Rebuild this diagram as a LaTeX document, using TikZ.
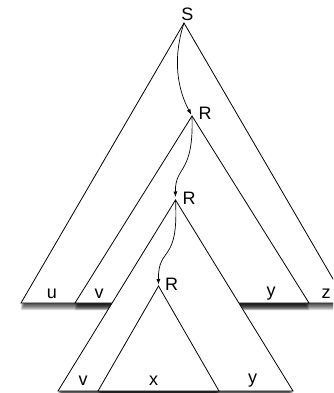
\documentclass[tikz,border=0pt]{standalone}
\usepackage{fontspec}
\setmainfont{Liberation Sans}
\usetikzlibrary{arrows.meta}

% A white triangle (apex, left corner, right corner) with a soft shadow
% falling below its base line at height #4.
\newcommand\shadowtri[4]{%
  \begin{scope}
    \clip (0,#4) rectangle (360,#4+14);
    \foreach \k in {1,...,7}{%
      \fill[black,opacity=0.15]
        ([yshift=-\k pt]#1) -- ([yshift=-\k pt]#2) -- ([yshift=-\k pt]#3) -- cycle;}
  \end{scope}
  \path[tri] (#1) -- (#2) -- (#3) -- cycle;}

\begin{document}
\begin{tikzpicture}[x=1pt,y=-1pt,
  tri/.style={draw=black,fill=white,line width=0.8pt,line join=miter},
  link/.style={draw=black,line width=0.7pt,-{Latex[length=5.5pt,width=4pt]}},
  lbl/.style={inner sep=0pt,font=\fontsize{18}{20}\selectfont}]
\useasboundingbox (0,0) rectangle (333,393);
\clip (0,0) rectangle (333,393);

% corners of the four nested derivation trees
\coordinate (sTop)  at (184,23);
\coordinate (sL)    at (21,303);
\coordinate (sR)    at (347,303);
\coordinate (rA)    at (192,116);
\coordinate (rAL)   at (75,303);
\coordinate (rAR)   at (309,303);
\coordinate (rB)    at (175.5,200);
\coordinate (rBL)   at (58,391);
\coordinate (rBR)   at (293,391);
\coordinate (rC)    at (158.5,286);
\coordinate (rCL)   at (98,391);
\coordinate (rCR)   at (219,391);

\shadowtri{sTop}{sL}{sR}{303}
\shadowtri{rA}{rAL}{rAR}{303}
\shadowtri{rB}{rBL}{rBR}{391}
\shadowtri{rC}{rCL}{rCR}{391}

% paths down to the repeated variable
\draw[link,shorten >=1.5pt] (sTop) .. controls (172,60) and (178,90) .. (rA);
\draw[link,shorten >=3pt] (rA) .. controls (194,175) and (175,165) .. (rB);
\draw[link,shorten >=1.5pt] (rB) .. controls (179,265) and (158,245) .. (rC);

% labels
\node[lbl] (lS)  at (187.5,14.5) {S};
\node[lbl] (lRA) at (205,113.5) {R};
\node[lbl] (lRB) at (189,198) {R};
\node[lbl] (lRC) at (171.5,284.5) {R};

\node[lbl] (lu)  at (52,294) {u};
\node[lbl] (lv)  at (99,294) {v};
\node[lbl] (ly)  at (271,294) {y};
\node[lbl] (lz)  at (326,294) {z};

\node[lbl] (lv2) at (83,381) {v};
\node[lbl] (lx)  at (153.5,381) {x};
\node[lbl] (ly2) at (252.5,381) {y};
\end{tikzpicture}
\end{document}
